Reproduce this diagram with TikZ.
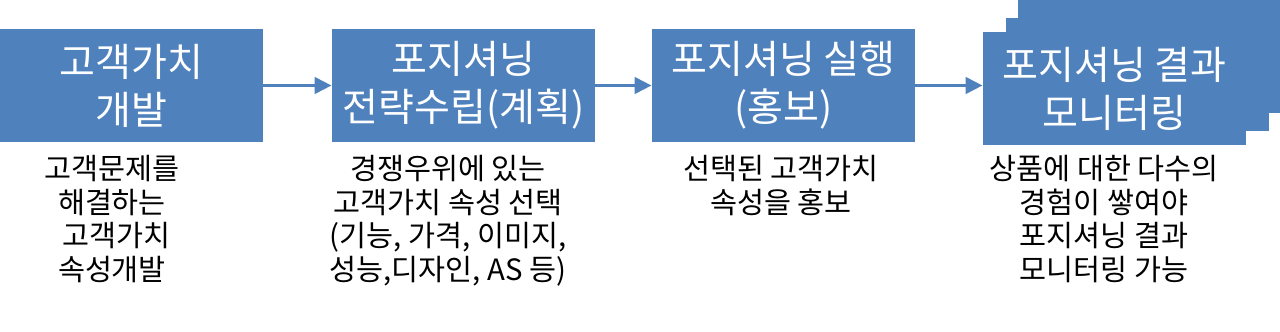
\documentclass[tikz,border=0pt]{standalone}
\usepackage{fontspec}
\setmainfont{Noto Sans CJK KR}
\usepackage{xcolor}
\usepackage{tikz}
\usetikzlibrary{arrows.meta, positioning, calc}
\definecolor{stageblue}{RGB}{79, 129, 189}
\tikzstyle{stage} = [rectangle, fill=stageblue, text=white, minimum width=5.26cm, minimum height=2.26cm, inner sep=0pt, align=center, font=\fontsize{22.2pt}{27.4pt}\selectfont]
\tikzstyle{note} = [align=center, anchor=north, inner sep=0pt, font=\fontsize{16.7pt}{19.1pt}\selectfont]
\tikzstyle{arrow} = [-{Triangle[length=0.34cm, width=0.32cm]}, line width=0.08cm, draw=stageblue]

\begin{document}
\begin{tikzpicture}[x=0.02cm, y=-0.02cm]
    \useasboundingbox (0,0) rectangle (1280,331);

    % Stacked cards behind the last stage
    \node[stage] (b4c) at (1149.5, 56.5) {};
    \node[stage] (b4b) at (1137.5, 74.5) {};

    % Stages
    \node[stage] (b1) at (131.5, 85.5) {고객가치\\개발};
    \node[stage] (b2) at (463.5, 85.5) {포지셔닝\\전략수립(계획)};
    \node[stage] (b3) at (783.5, 85.5) {포지셔닝 실행\\(홍보)};
    \node[stage] (b4) at (1114.5, 88.5) {포지셔닝 결과\\모니터링};

    % Arrows
    \draw[arrow] (b1.east) -- (b2.west);
    \draw[arrow] (b2.east) -- (b3.west);
    \draw[arrow] (b3.east) -- (b3.east -| b4.west);

    % Notes
    \node[note] (n1) at (112, 155) {고객문제를\\해결하는\\\hspace{0.3em}고객가치\\속성개발};
    \node[note] (n2) at (448, 155) {경쟁우위에 있는\\고객가치 속성 선택\\(기능, 가격, 이미지,\\성능,디자인, AS 등)};
    \node[note] (n3) at (781, 155) {선택된 고객가치\\속성을 홍보};
    \node[note] (n4) at (1104, 155) {상품에 대한 다수의\\경험이 쌓여야\\포지셔닝 결과\\모니터링 가능};
\end{tikzpicture}
\end{document}
